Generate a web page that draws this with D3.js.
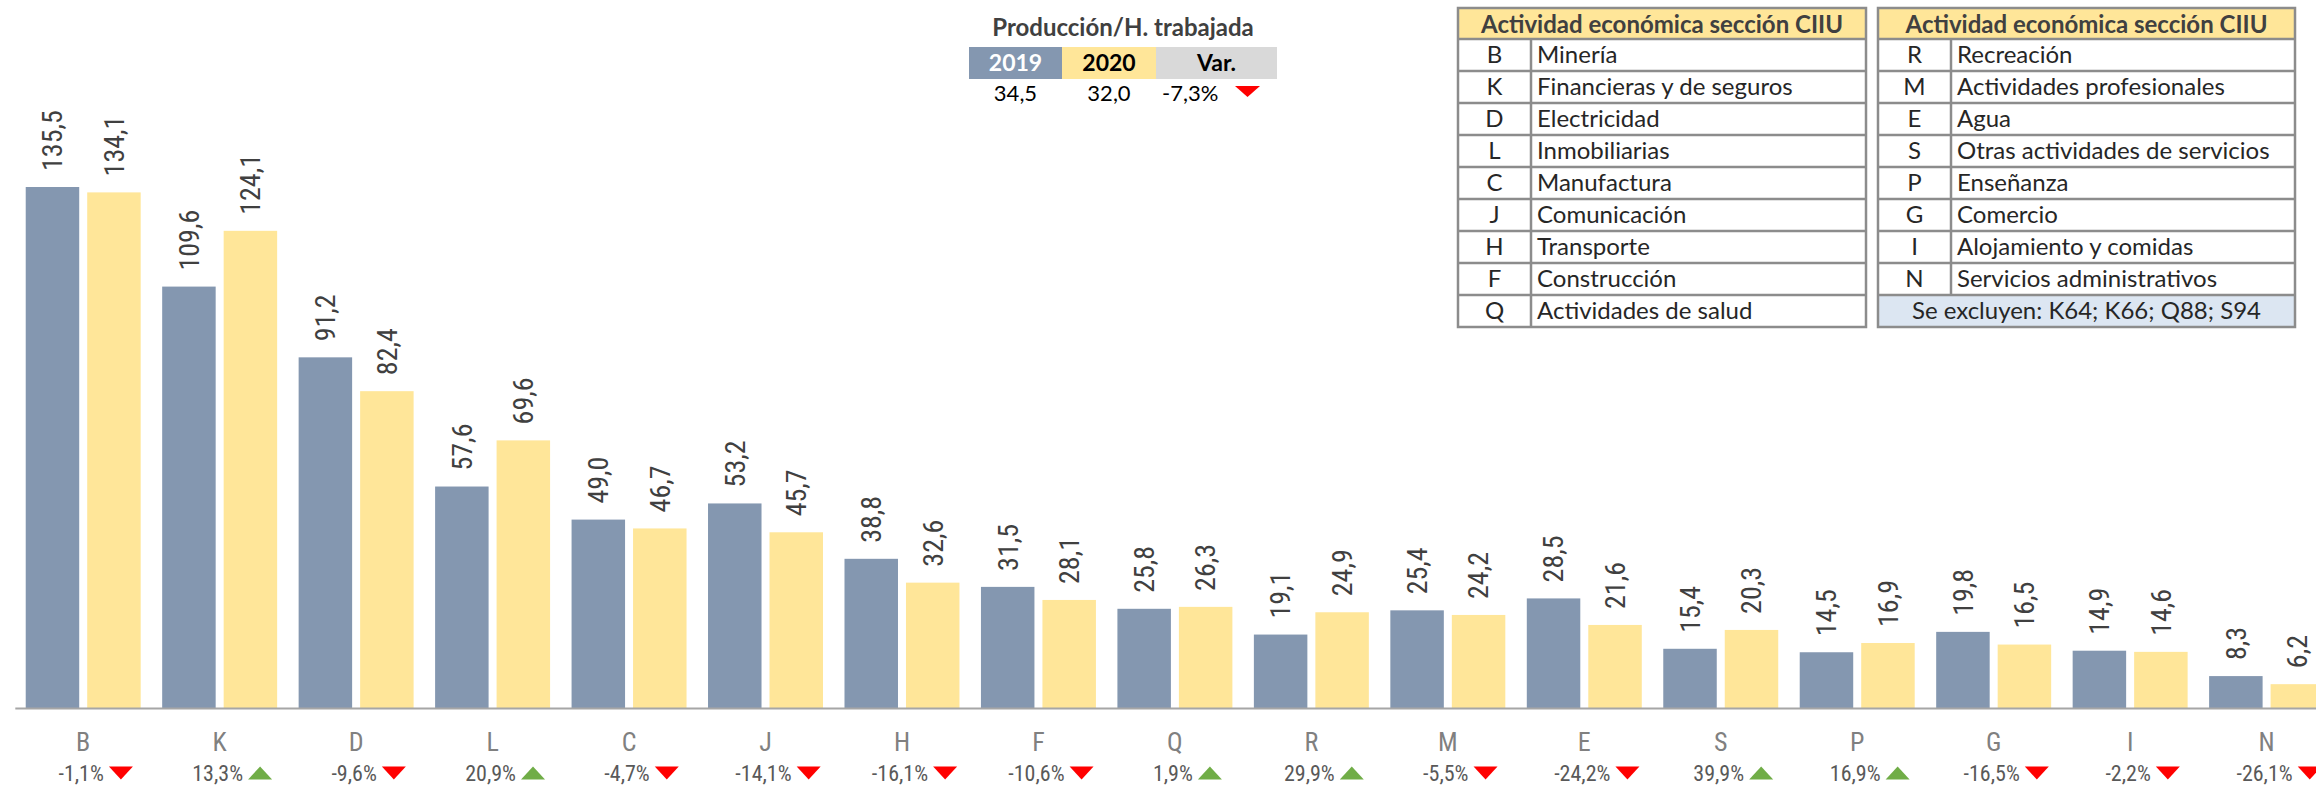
<!DOCTYPE html>
<html>
<head>
<meta charset="utf-8">
<script src="https://cdn.jsdelivr.net/npm/d3@7"></script>
<style>
  html, body { margin: 0; padding: 0; background: #fff; }
  svg { display: block; }
  .narrow { font-family: "Tw Cen MT", "Liberation Sans Narrow", "Arial Narrow", "Roboto Condensed", "DejaVu Sans Condensed", sans-serif; }
  .gothic { font-family: "Century Gothic", "Lato", "Noto Sans", sans-serif; }
</style>
</head>
<body>
<div id="chart"></div>
<script>
// --- data ---
const CATEGORIES = ["B", "K", "D", "L", "C", "J", "H", "F", "Q", "R", "M", "E", "S", "P", "G", "I", "N"];
const SERIES = ["2019", "2020"];
const VALUES_2019 = [135.5, 109.6, 91.2, 57.6, 49.0, 53.2, 38.8, 31.5, 25.8, 19.1, 25.4, 28.5, 15.4, 14.5, 19.8, 14.9, 8.3];
const VALUES_2020 = [134.1, 124.1, 82.4, 69.6, 46.7, 45.7, 32.6, 28.1, 26.3, 24.9, 24.2, 21.6, 20.3, 16.9, 16.5, 14.6, 6.2];
const VARIATION = [-1.1, 13.3, -9.6, 20.9, -4.7, -14.1, -16.1, -10.6, 1.9, 29.9, -5.5, -24.2, 39.9, 16.9, -16.5, -2.2, -26.1];

const SUMMARY_TITLE = "Producción/H. trabajada";
const SUMMARY_HEADERS = ["2019", "2020", "Var."];
const SUMMARY_VALUES = [34.5, 32.0];
const SUMMARY_VAR = -7.3;

const TABLE_TITLE = "Actividad económica sección CIIU";
const CIIU_LEFT = [
  ["B", "Minería"], ["K", "Financieras y de seguros"], ["D", "Electricidad"],
  ["L", "Inmobiliarias"], ["C", "Manufactura"], ["J", "Comunicación"],
  ["H", "Transporte"], ["F", "Construcción"], ["Q", "Actividades de salud"]
];
const CIIU_RIGHT = [
  ["R", "Recreación"], ["M", "Actividades profesionales"], ["E", "Agua"],
  ["S", "Otras actividades de servicios"], ["P", "Enseñanza"], ["G", "Comercio"],
  ["I", "Alojamiento y comidas"], ["N", "Servicios administrativos"]
];
const CIIU_NOTE = "Se excluyen: K64; K66; Q88; S94";

// --- layout ---
const W = 2316, H = 787;
const BASE_Y = 708;
const COLORS = { "2019": "#8497b0", "2020": "#ffe699" };
const UP = "#70ad47", DOWN = "#ff0000";

const loc = d3.formatLocale({ decimal: ",", thousands: ".", grouping: [3], currency: ["", ""], minus: "-" });
const fmt1 = loc.format(".1f");

const svg = d3.select("#chart").append("svg")
  .attr("width", W).attr("height", H)
  .attr("viewBox", `0 0 ${W} ${H}`);

const x0 = d3.scaleBand().domain(CATEGORIES).range([14.8, 2335]).paddingInner(0.1575).paddingOuter(0.08);
const x1 = d3.scaleBand().domain(SERIES).range([0, x0.bandwidth()]).paddingInner(0.13);
const y = d3.scaleLinear().domain([0, 150]).range([BASE_Y, BASE_Y - 150 * 3.845]);

const rows = CATEGORIES.map((c, i) => ({
  cat: c,
  vals: [{ s: "2019", v: VALUES_2019[i] }, { s: "2020", v: VALUES_2020[i] }],
  change: VARIATION[i]
}));

function triangle(cx, cy, w, h, up) {
  const p = d3.path();
  if (up) {
    p.moveTo(cx - w / 2, cy + h / 2); p.lineTo(cx + w / 2, cy + h / 2); p.lineTo(cx, cy - h / 2);
  } else {
    p.moveTo(cx - w / 2, cy - h / 2); p.lineTo(cx + w / 2, cy - h / 2); p.lineTo(cx, cy + h / 2);
  }
  p.closePath();
  return p.toString();
}

// bars
const groups = svg.append("g").selectAll("g.grp").data(rows).join("g")
  .attr("class", "grp")
  .attr("transform", (d) => `translate(${x0(d.cat)},0)`);

groups.selectAll("rect").data((d) => d.vals).join("rect")
  .attr("x", (d) => x1(d.s))
  .attr("width", x1.bandwidth())
  .attr("y", (d) => y(d.v))
  .attr("height", (d) => y(0) - y(d.v))
  .attr("fill", (d) => COLORS[d.s]);

groups.selectAll("text.val").data((d) => d.vals).join("text")
  .attr("class", "val narrow")
  .attr("transform", (d) => `translate(${x1(d.s) + x1.bandwidth() / 2},${y(d.v) - 16}) rotate(-90)`)
  .attr("dy", "0.35em")
  .attr("text-anchor", "start")
  .attr("font-size", 28)
  .attr("fill", "#404040")
  .text((d) => fmt1(d.v));

// axis
const axis = svg.append("g")
  .attr("transform", `translate(0,${BASE_Y})`)
  .call(d3.axisBottom(x0).tickSize(0).tickSizeOuter(0).tickPadding(25));
axis.select(".domain").attr("stroke", "#a6a6a6").attr("stroke-width", 2);
axis.selectAll(".tick text")
  .attr("class", "narrow")
  .attr("font-size", 26)
  .attr("fill", "#808080");

// variation labels
const PCT_Y = 773;
const pct = svg.append("g").selectAll("g.pct").data(rows).join("g").attr("class", "pct");
pct.append("text")
  .attr("class", "narrow")
  .attr("x", (d) => x0(d.cat) + x0.bandwidth() / 2 - 2)
  .attr("y", PCT_Y)
  .attr("dy", "0.35em")
  .attr("text-anchor", "middle")
  .attr("font-size", 22)
  .attr("fill", "#595959")
  .text((d) => fmt1(d.change) + "%");
pct.append("path")
  .attr("d", function (d) {
    const t = this.parentNode.querySelector("text");
    const len = t.getComputedTextLength();
    const cx = x0(d.cat) + x0.bandwidth() / 2 - 2 + len / 2 + 5 + 12;
    return triangle(cx, PCT_Y, 24, 13, d.change >= 0);
  })
  .attr("fill", (d) => (d.change >= 0 ? UP : DOWN));

// summary table (Producción/H. trabajada)
const sum = svg.append("g").attr("class", "gothic");
sum.append("text")
  .attr("x", 1123).attr("y", 28).attr("dy", "0.35em")
  .attr("text-anchor", "middle").attr("font-size", 24).attr("font-weight", 700)
  .attr("fill", "#404040").text(SUMMARY_TITLE);
const sumCells = [
  { x: 969, w: 93, bg: COLORS["2019"], fg: "#ffffff" },
  { x: 1062, w: 94, bg: COLORS["2020"], fg: "#000000" },
  { x: 1156, w: 121, bg: "#d9d9d9", fg: "#000000" }
];
sumCells.forEach((c, i) => {
  sum.append("rect").attr("x", c.x).attr("y", 47).attr("width", c.w).attr("height", 32).attr("fill", c.bg);
  sum.append("text").attr("x", c.x + c.w / 2).attr("y", 63).attr("dy", "0.35em")
    .attr("text-anchor", "middle").attr("font-size", 23).attr("font-weight", 700)
    .attr("fill", c.fg).text(SUMMARY_HEADERS[i]);
});
SUMMARY_VALUES.forEach((v, i) => {
  sum.append("text").attr("x", sumCells[i].x + sumCells[i].w / 2).attr("y", 93).attr("dy", "0.35em")
    .attr("text-anchor", "middle").attr("font-size", 22).attr("fill", "#000").text(fmt1(v));
});
sum.append("text").attr("x", 1162).attr("y", 93).attr("dy", "0.35em")
  .attr("font-size", 22).attr("fill", "#000").text(fmt1(SUMMARY_VAR) + "%");
sum.append("path").attr("d", triangle(1247.5, 91.5, 25, 11, SUMMARY_VAR >= 0))
  .attr("fill", SUMMARY_VAR >= 0 ? UP : DOWN);

// CIIU tables
function drawTable(x, width, items, note) {
  const g = svg.append("g").attr("class", "gothic");
  const top = 8, headH = 31, rowH = 32, divX = 73;
  const nRows = items.length + (note ? 1 : 0);
  const bottom = top + headH + nRows * rowH;
  g.append("rect").attr("x", x).attr("y", top).attr("width", width).attr("height", headH).attr("fill", "#ffe699");
  if (note) {
    g.append("rect").attr("x", x).attr("y", bottom - rowH).attr("width", width).attr("height", rowH).attr("fill", "#dce6f2");
  }
  g.append("text").attr("x", x + width / 2).attr("y", top + headH / 2 + 1).attr("dy", "0.35em")
    .attr("text-anchor", "middle").attr("font-size", 24).attr("font-weight", 700)
    .attr("fill", "#404040").text(TABLE_TITLE);
  const r = g.selectAll("g.row").data(items).join("g")
    .attr("transform", (d, i) => `translate(${x},${top + headH + i * rowH})`);
  r.append("text").attr("x", divX / 2).attr("y", rowH / 2).attr("dy", "0.35em")
    .attr("text-anchor", "middle").attr("font-size", 24).attr("fill", "#262626").text((d) => d[0]);
  r.append("text").attr("x", divX + 6).attr("y", rowH / 2).attr("dy", "0.35em")
    .attr("font-size", 24).attr("fill", "#262626").text((d) => d[1]);
  if (note) {
    g.append("text").attr("x", x + width / 2).attr("y", bottom - rowH / 2).attr("dy", "0.35em")
      .attr("text-anchor", "middle").attr("font-size", 24).attr("fill", "#262626").text(note);
  }
  // grid lines
  const stroke = "#8c8c8c", sw = 2.5;
  for (let i = 0; i < nRows; i++) {
    const yy = top + headH + i * rowH;
    g.append("line").attr("x1", x).attr("x2", x + width).attr("y1", yy).attr("y2", yy)
      .attr("stroke", stroke).attr("stroke-width", sw);
  }
  g.append("line").attr("x1", x + divX).attr("x2", x + divX)
    .attr("y1", top + headH).attr("y2", top + headH + items.length * rowH)
    .attr("stroke", stroke).attr("stroke-width", sw);
  g.append("rect").attr("x", x).attr("y", top).attr("width", width).attr("height", bottom - top)
    .attr("fill", "none").attr("stroke", stroke).attr("stroke-width", sw);
}
drawTable(1458, 408, CIIU_LEFT, null);
drawTable(1878, 417, CIIU_RIGHT, CIIU_NOTE);
</script>
</body>
</html>
